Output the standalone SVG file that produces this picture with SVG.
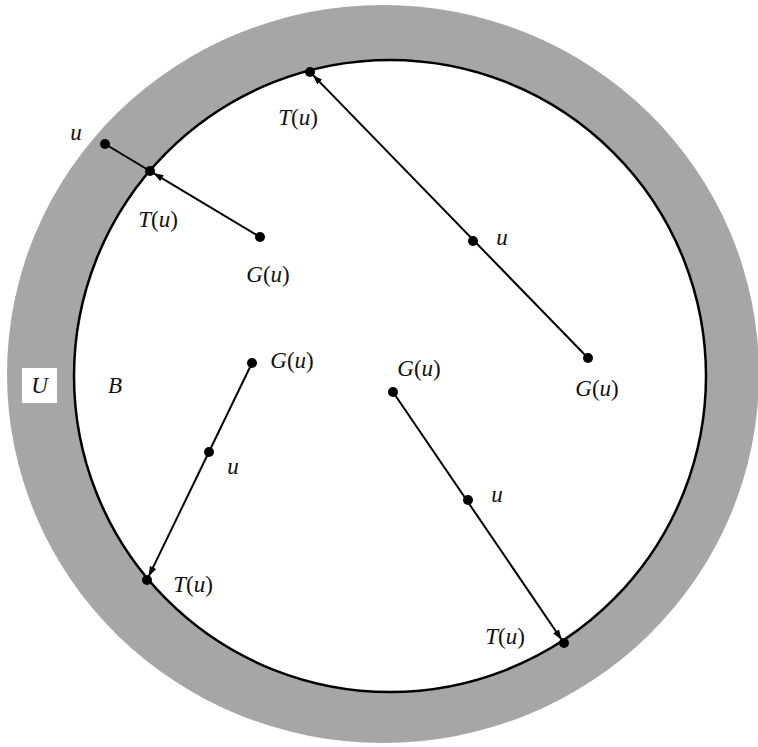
<svg xmlns="http://www.w3.org/2000/svg" width="758" height="747" viewBox="0 0 758 747">
<style>
.lbl{font-family:"Liberation Serif","Times New Roman",serif;font-size:23px;fill:#111}
.it{font-style:italic}
.dot{fill:#000}
.conn{stroke:#000;stroke-width:2;fill:none}
</style>
<defs>
<marker id="ah" markerUnits="userSpaceOnUse" markerWidth="12" markerHeight="10" refX="10" refY="4" orient="auto">
<path d="M0,0.5 L10,4 L0,7.5 Z" fill="#000"/>
</marker>
</defs>
<rect width="758" height="747" fill="#fff"/>
<g id="region-U">
<ellipse cx="383" cy="374" rx="376" ry="369" fill="#a6a6a6"/>
<rect x="22" y="368" width="35" height="35" fill="#fff"/>
<text class="lbl it" x="39.5" y="393" text-anchor="middle">U</text>
</g>
<g id="region-B">
<circle cx="390" cy="376" r="316" fill="#fff" stroke="#000" stroke-width="2.5"/>
<text class="lbl it" x="115" y="393" text-anchor="middle">B</text>
</g>
<g id="connectors">
<line class="conn" x1="105" y1="144" x2="150" y2="171"/>
<line class="conn" x1="260" y1="237" x2="153.4" y2="173.1" marker-end="url(#ah)"/>
<line class="conn" x1="588" y1="358" x2="312.8" y2="74.9" marker-end="url(#ah)"/>
<line class="conn" x1="252" y1="363" x2="148.7" y2="576.4" marker-end="url(#ah)"/>
<line class="conn" x1="393" y1="392" x2="561.7" y2="639.7" marker-end="url(#ah)"/>
</g>
<g id="n1-u"><circle class="dot" cx="105" cy="144" r="5"/><text class="lbl it" x="76" y="140" text-anchor="middle">u</text></g>
<g id="n1-T"><circle class="dot" cx="150" cy="171" r="5"/><text class="lbl" x="158" y="227" text-anchor="middle"><tspan class="it">T</tspan>(<tspan class="it">u</tspan>)</text></g>
<g id="n1-G"><circle class="dot" cx="260" cy="237" r="5"/><text class="lbl" x="268" y="282" text-anchor="middle"><tspan class="it">G</tspan>(<tspan class="it">u</tspan>)</text></g>
<g id="n2-T"><circle class="dot" cx="310" cy="72" r="5"/><text class="lbl" x="298" y="125" text-anchor="middle"><tspan class="it">T</tspan>(<tspan class="it">u</tspan>)</text></g>
<g id="n2-u"><circle class="dot" cx="473" cy="241" r="5"/><text class="lbl it" x="502" y="245" text-anchor="middle">u</text></g>
<g id="n2-G"><circle class="dot" cx="588" cy="358" r="5"/><text class="lbl" x="597" y="396" text-anchor="middle"><tspan class="it">G</tspan>(<tspan class="it">u</tspan>)</text></g>
<g id="n3-G"><circle class="dot" cx="252" cy="363" r="5"/><text class="lbl" x="292" y="368" text-anchor="middle"><tspan class="it">G</tspan>(<tspan class="it">u</tspan>)</text></g>
<g id="n3-u"><circle class="dot" cx="209" cy="452" r="5"/><text class="lbl it" x="233" y="474" text-anchor="middle">u</text></g>
<g id="n3-T"><circle class="dot" cx="147" cy="580" r="5"/><text class="lbl" x="193" y="592" text-anchor="middle"><tspan class="it">T</tspan>(<tspan class="it">u</tspan>)</text></g>
<g id="n4-G"><circle class="dot" cx="393" cy="392" r="5"/><text class="lbl" x="419" y="376" text-anchor="middle"><tspan class="it">G</tspan>(<tspan class="it">u</tspan>)</text></g>
<g id="n4-u"><circle class="dot" cx="468" cy="500" r="5"/><text class="lbl it" x="497" y="502" text-anchor="middle">u</text></g>
<g id="n4-T"><circle class="dot" cx="564" cy="643" r="5"/><text class="lbl" x="505" y="644" text-anchor="middle"><tspan class="it">T</tspan>(<tspan class="it">u</tspan>)</text></g>
</svg>
